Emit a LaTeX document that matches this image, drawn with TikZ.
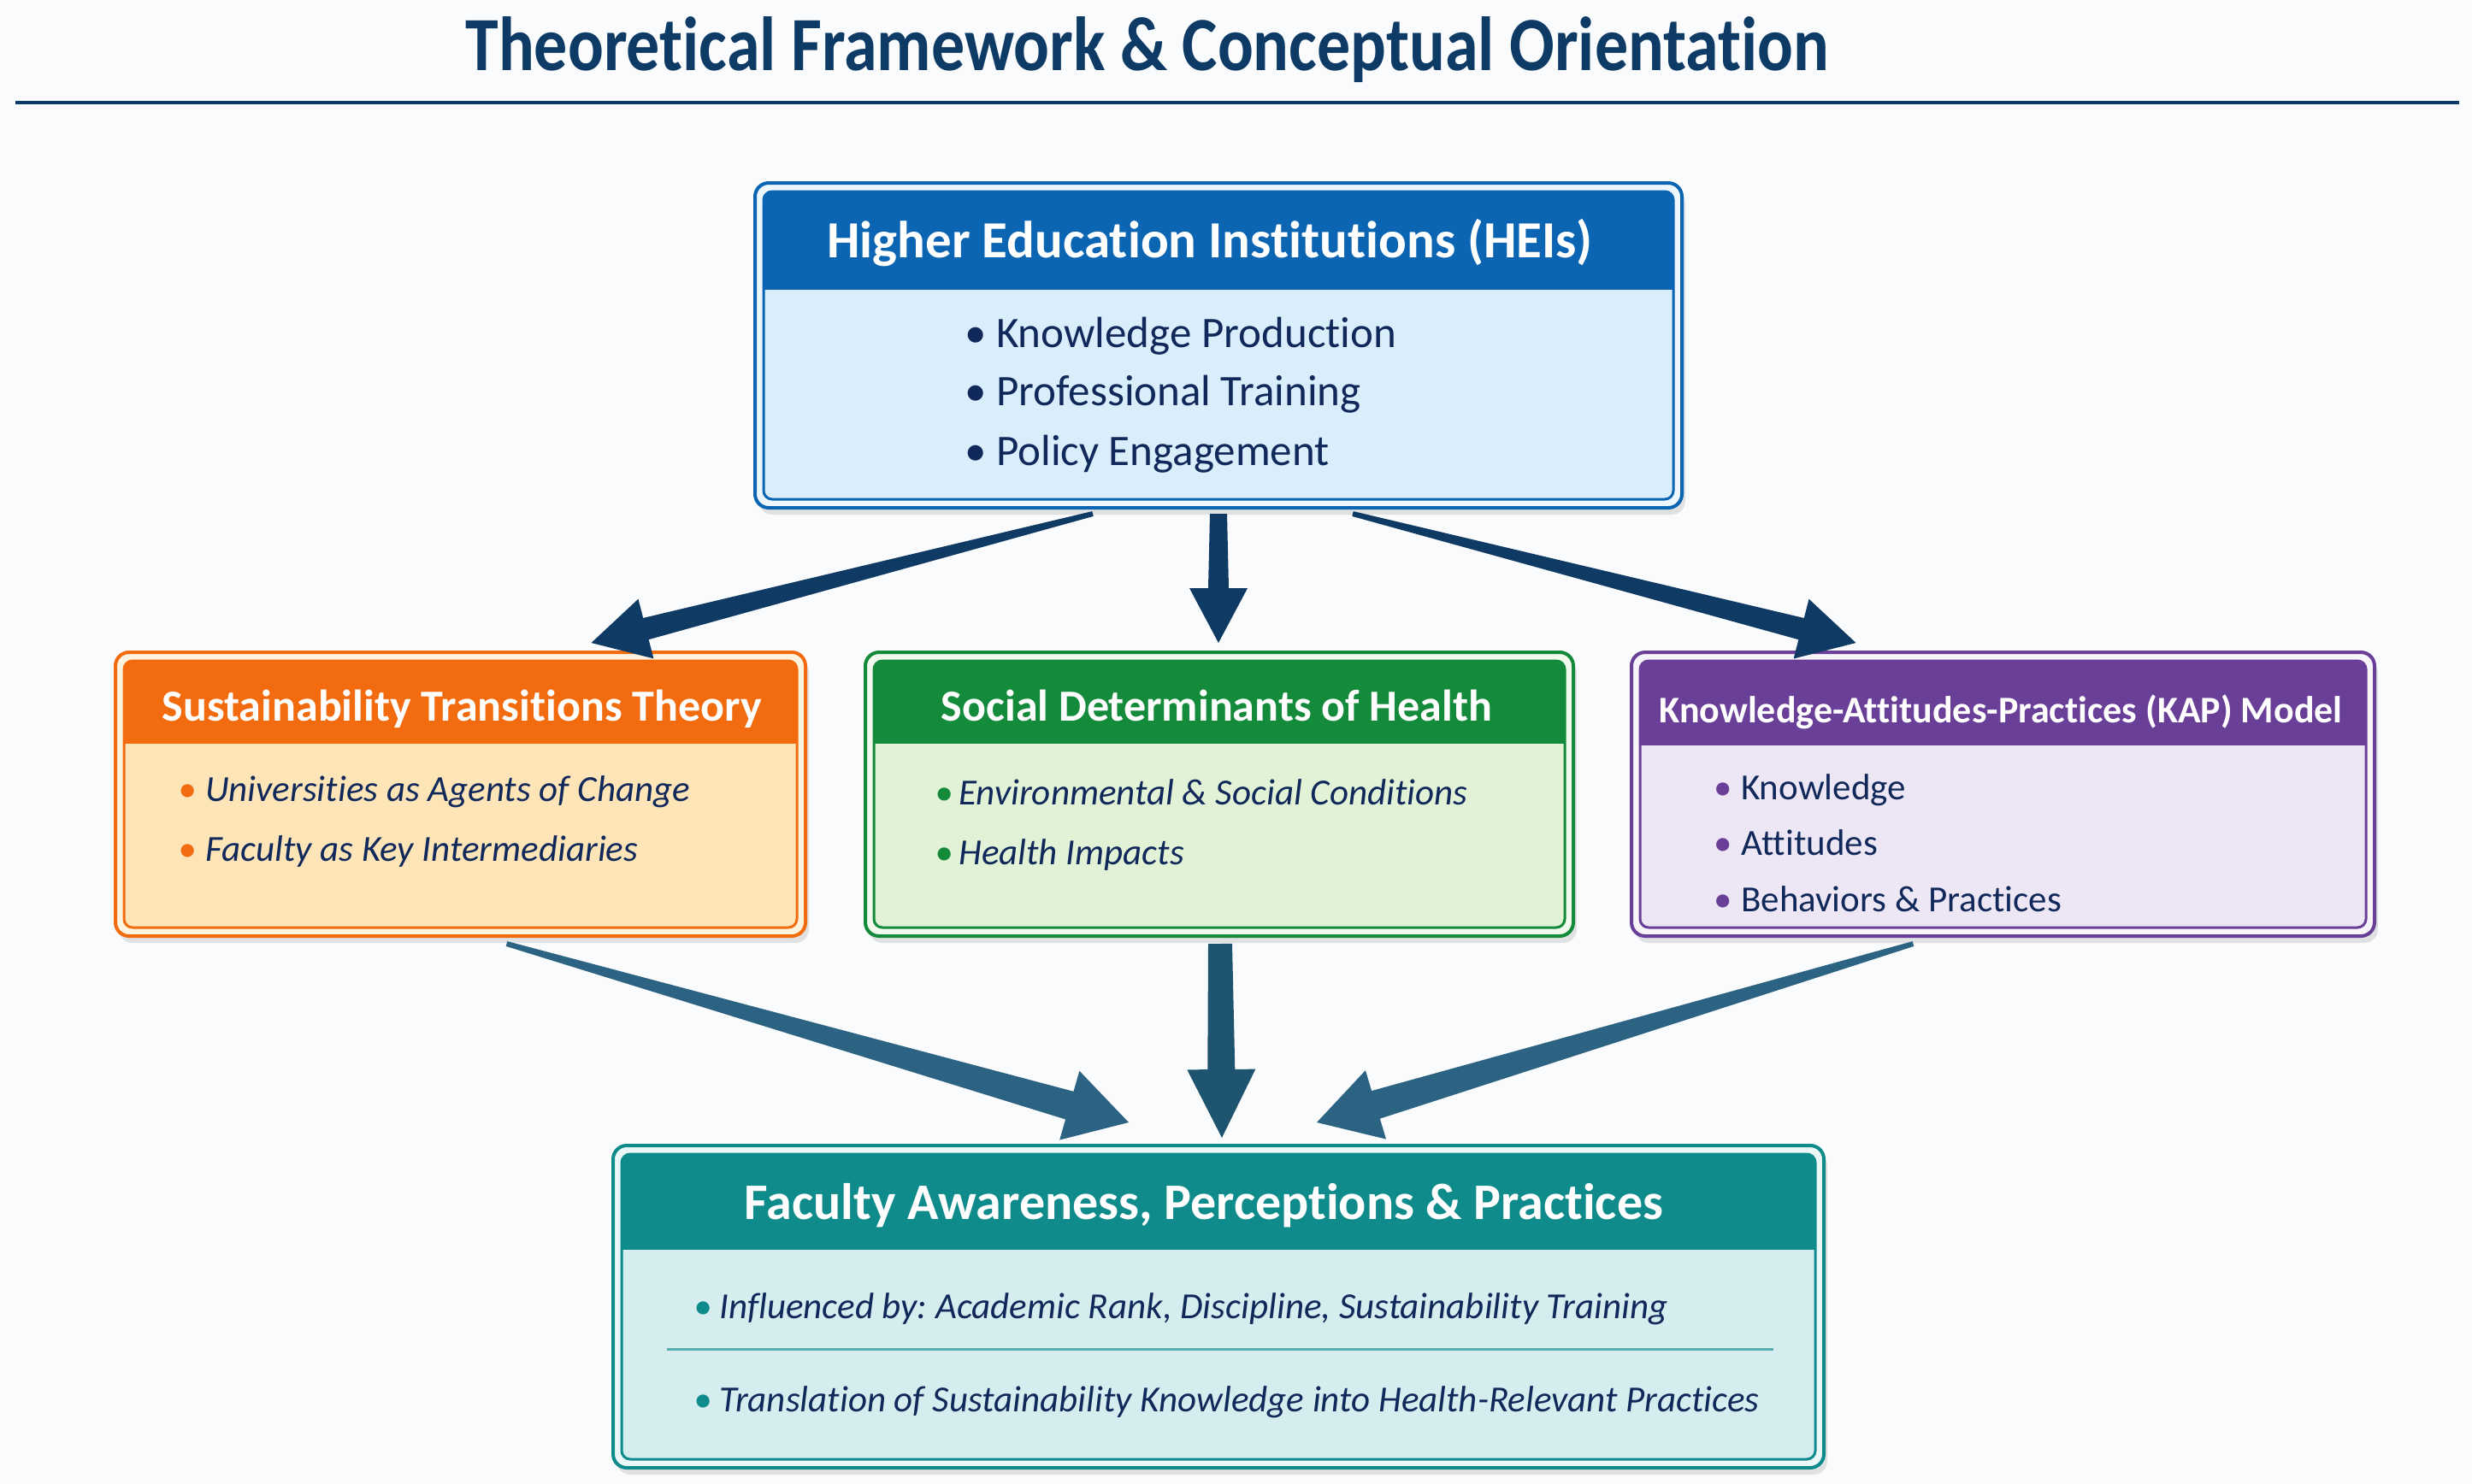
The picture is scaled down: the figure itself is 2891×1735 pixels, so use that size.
\documentclass[tikz,border=0pt]{standalone}
\usepackage{fontspec}
\setmainfont{Carlito}[Ligatures=NoCommon]
\usetikzlibrary{calc,fit}
\definecolor{bgc}{HTML}{FAFBFC}
\definecolor{navy}{HTML}{0D3B66}
\definecolor{txt}{HTML}{10285A}
\definecolor{heiD}{HTML}{0B65B3}
\definecolor{heiL}{HTML}{D9EDFB}
\definecolor{susD}{HTML}{F26B0E}
\definecolor{susL}{HTML}{FDE5B8}
\definecolor{sdhD}{HTML}{138B3B}
\definecolor{sdhL}{HTML}{E1F2D6}
\definecolor{kapD}{HTML}{6A3F98}
\definecolor{kapL}{HTML}{EDE6F4}
\definecolor{fapD}{HTML}{0F8B8B}
\definecolor{fapL}{HTML}{D5EDEE}
\definecolor{arrA}{HTML}{0F3A64}
\definecolor{arrB}{HTML}{2C6282}
\definecolor{arrC}{HTML}{1F5470}
% box: name, corner1, corner2, header bottom y, dark, light
\newcommand\cbox[6]{%
  \node[fit={#2 #3}, inner sep=0pt, outer sep=0pt] (#1) {};
  \fill[black, opacity=0.10, rounded corners=16pt] ($(#1.south west)+(4,8)$) rectangle ($(#1.north east)+(4,8)$);
  \draw[line width=4pt, draw=#5, fill=#6!45!white, rounded corners=16pt] (#1.south west) rectangle (#1.north east);
  \begin{scope}
    \clip[rounded corners=10pt] ($(#1.south west)+(10,-10)$) rectangle ($(#1.north east)+(-10,10)$);
    \fill[#6] ($(#1.south west)+(10,-10)$) rectangle ($(#1.north east)+(-10,10)$);
    \fill[#5] (#1.north west) rectangle (#1.east |- 0,#4);
  \end{scope}
  \draw[line width=3pt, draw=#5, rounded corners=10pt] ($(#1.south west)+(10,-10)$) rectangle ($(#1.north east)+(-10,10)$);
}
% tapered arrow: start, end, half start width, half end width, half head width, head length, colour
\newcommand\tarrow[7]{%
  \coordinate (tH) at ($(#2)!#6!(#1)$);
  \fill[#7] ($(#1)!#3!90:(#2)$) -- ($(tH)!#4!90:(#2)$) -- ($(tH)!#5!90:(#2)$) -- (#2)
    -- ($(tH)!#5!-90:(#2)$) -- ($(tH)!#4!-90:(#2)$) -- ($(#1)!#3!-90:(#2)$) -- cycle;
}
\newcommand\bitem[3]{\makebox[#1][l]{\textcolor{#2}{•}}#3}
\begin{document}
\frenchspacing
\begin{tikzpicture}[x=1pt,y=-1pt,
  maintitle/.style={font=\fontsize{78}{90}\selectfont\bfseries, text=navy, inner sep=0pt, anchor=mid},
  htitle/.style={font=\fontsize{#1}{#1}\selectfont\bfseries, text=white, inner sep=0pt, anchor=mid},
  btext/.style={font=\fontsize{#1}{#1}\selectfont, text=txt, inner sep=0pt, anchor=mid west},
  bitext/.style={font=\fontsize{#1}{#1}\selectfont\itshape, text=txt, inner sep=0pt, anchor=mid west}]
\useasboundingbox (0,0) rectangle (2891,1735);
\fill[bgc] (0,0) rectangle (2891,1735);
% title
\node[maintitle] (title) at (1342,80) {\scalebox{1}[1.15]{Theoretical Framework \& Conceptual Orientation}};
\draw[line width=4pt, navy] (18,120) -- (2876,120);
% boxes
\cbox{hei}{(883,214)}{(1967,594)}{339}{heiD}{heiL}
\cbox{sus}{(135,763)}{(942,1095)}{870}{susD}{susL}
\cbox{sdh}{(1012,763)}{(1840,1095)}{870}{sdhD}{sdhL}
\cbox{kap}{(1908,763)}{(2777,1095)}{872}{kapD}{kapL}
\cbox{fap}{(717,1340)}{(2133,1717)}{1462}{fapD}{fapL}
% texts
\node[htitle=61] (hei-t) at (1415,299) {Higher Education Institutions (HEIs)};
\node[btext=51] (hei-1) at (1128,404) {\bitem{37pt}{txt}{Knowledge Production}};
\node[btext=51] (hei-2) at (1128,472) {\bitem{37pt}{txt}{Professional Training}};
\node[btext=51] (hei-3) at (1128,542) {\bitem{37pt}{txt}{Policy Engagement}};
\node[htitle=52] (sus-t) at (540,841) {Sustainability Transitions Theory};
\node[bitext=43] (sus-1) at (208,935) {\bitem{32pt}{susD}{Universities as Agents of Change}};
\node[bitext=43] (sus-2) at (208,1005) {\bitem{32pt}{susD}{Faculty as Key Intermediaries}};
\node[htitle=52] (sdh-t) at (1423,841) {Social Determinants of Health};
\node[bitext=43] (sdh-1) at (1093,939) {\bitem{28pt}{sdhD}{Environmental \& Social Conditions}};
\node[bitext=43] (sdh-2) at (1093,1009) {\bitem{28pt}{sdhD}{Health Impacts}};
\node[htitle=44] (kap-t) at (2340,843) {Knowledge-Attitudes-Practices (KAP) Model};
\node[btext=43] (kap-1) at (2004,933) {\bitem{32pt}{kapD}{Knowledge}};
\node[btext=43] (kap-2) at (2004,998) {\bitem{32pt}{kapD}{Attitudes}};
\node[btext=43] (kap-3) at (2004,1064) {\bitem{32pt}{kapD}{Behaviors \& Practices}};
\node[htitle=60] (fap-t) at (1408,1424) {Faculty Awareness, Perceptions \& Practices};
\node[bitext=43] (fap-1) at (811,1540) {\bitem{30pt}{fapD}{Influenced by: Academic Rank, Discipline, Sustainability Training}};
\node[bitext=43] (fap-2) at (811,1649) {\bitem{30pt}{fapD}{Translation of Sustainability Knowledge into Health-Relevant Practices}};
\draw[line width=3pt, fapD!70!white] (780,1578) -- (2074,1578);
% arrow end points
\coordinate (a1s) at ($(hei.south)+(-147,7)$);
\coordinate (a1e) at ($(sus.north)+(153,-11)$);
\coordinate (a2s) at ($(hei.south)+(0,7)$);
\coordinate (a2e) at ($(sdh.north)+(-1,-11)$);
\coordinate (a3s) at ($(hei.south)+(157,7)$);
\coordinate (a3e) at ($(kap.north)+(-172,-11)$);
\coordinate (b1s) at ($(sus.south)+(54,9)$);
\coordinate (b1e) at ($(fap.north)+(-105,-27)$);
\coordinate (b2s) at ($(sdh.south)+(1,9)$);
\coordinate (b2e) at ($(fap.north)+(4,-9)$);
\coordinate (b3s) at ($(kap.south)+(-105,9)$);
\coordinate (b3e) at ($(fap.north)+(115,-27)$);
\tarrow{a1s}{a1e}{3pt}{13pt}{36pt}{66pt}{arrA}
\tarrow{a2s}{a2e}{10pt}{12pt}{34pt}{64pt}{arrA}
\tarrow{a3s}{a3e}{3pt}{13pt}{36pt}{66pt}{arrA}
\tarrow{b1s}{b1e}{3pt}{17pt}{42pt}{72pt}{arrB}
\tarrow{b2s}{b2e}{14pt}{16pt}{40pt}{80pt}{arrC}
\tarrow{b3s}{b3e}{3pt}{17pt}{42pt}{72pt}{arrB}
\end{tikzpicture}
\end{document}
